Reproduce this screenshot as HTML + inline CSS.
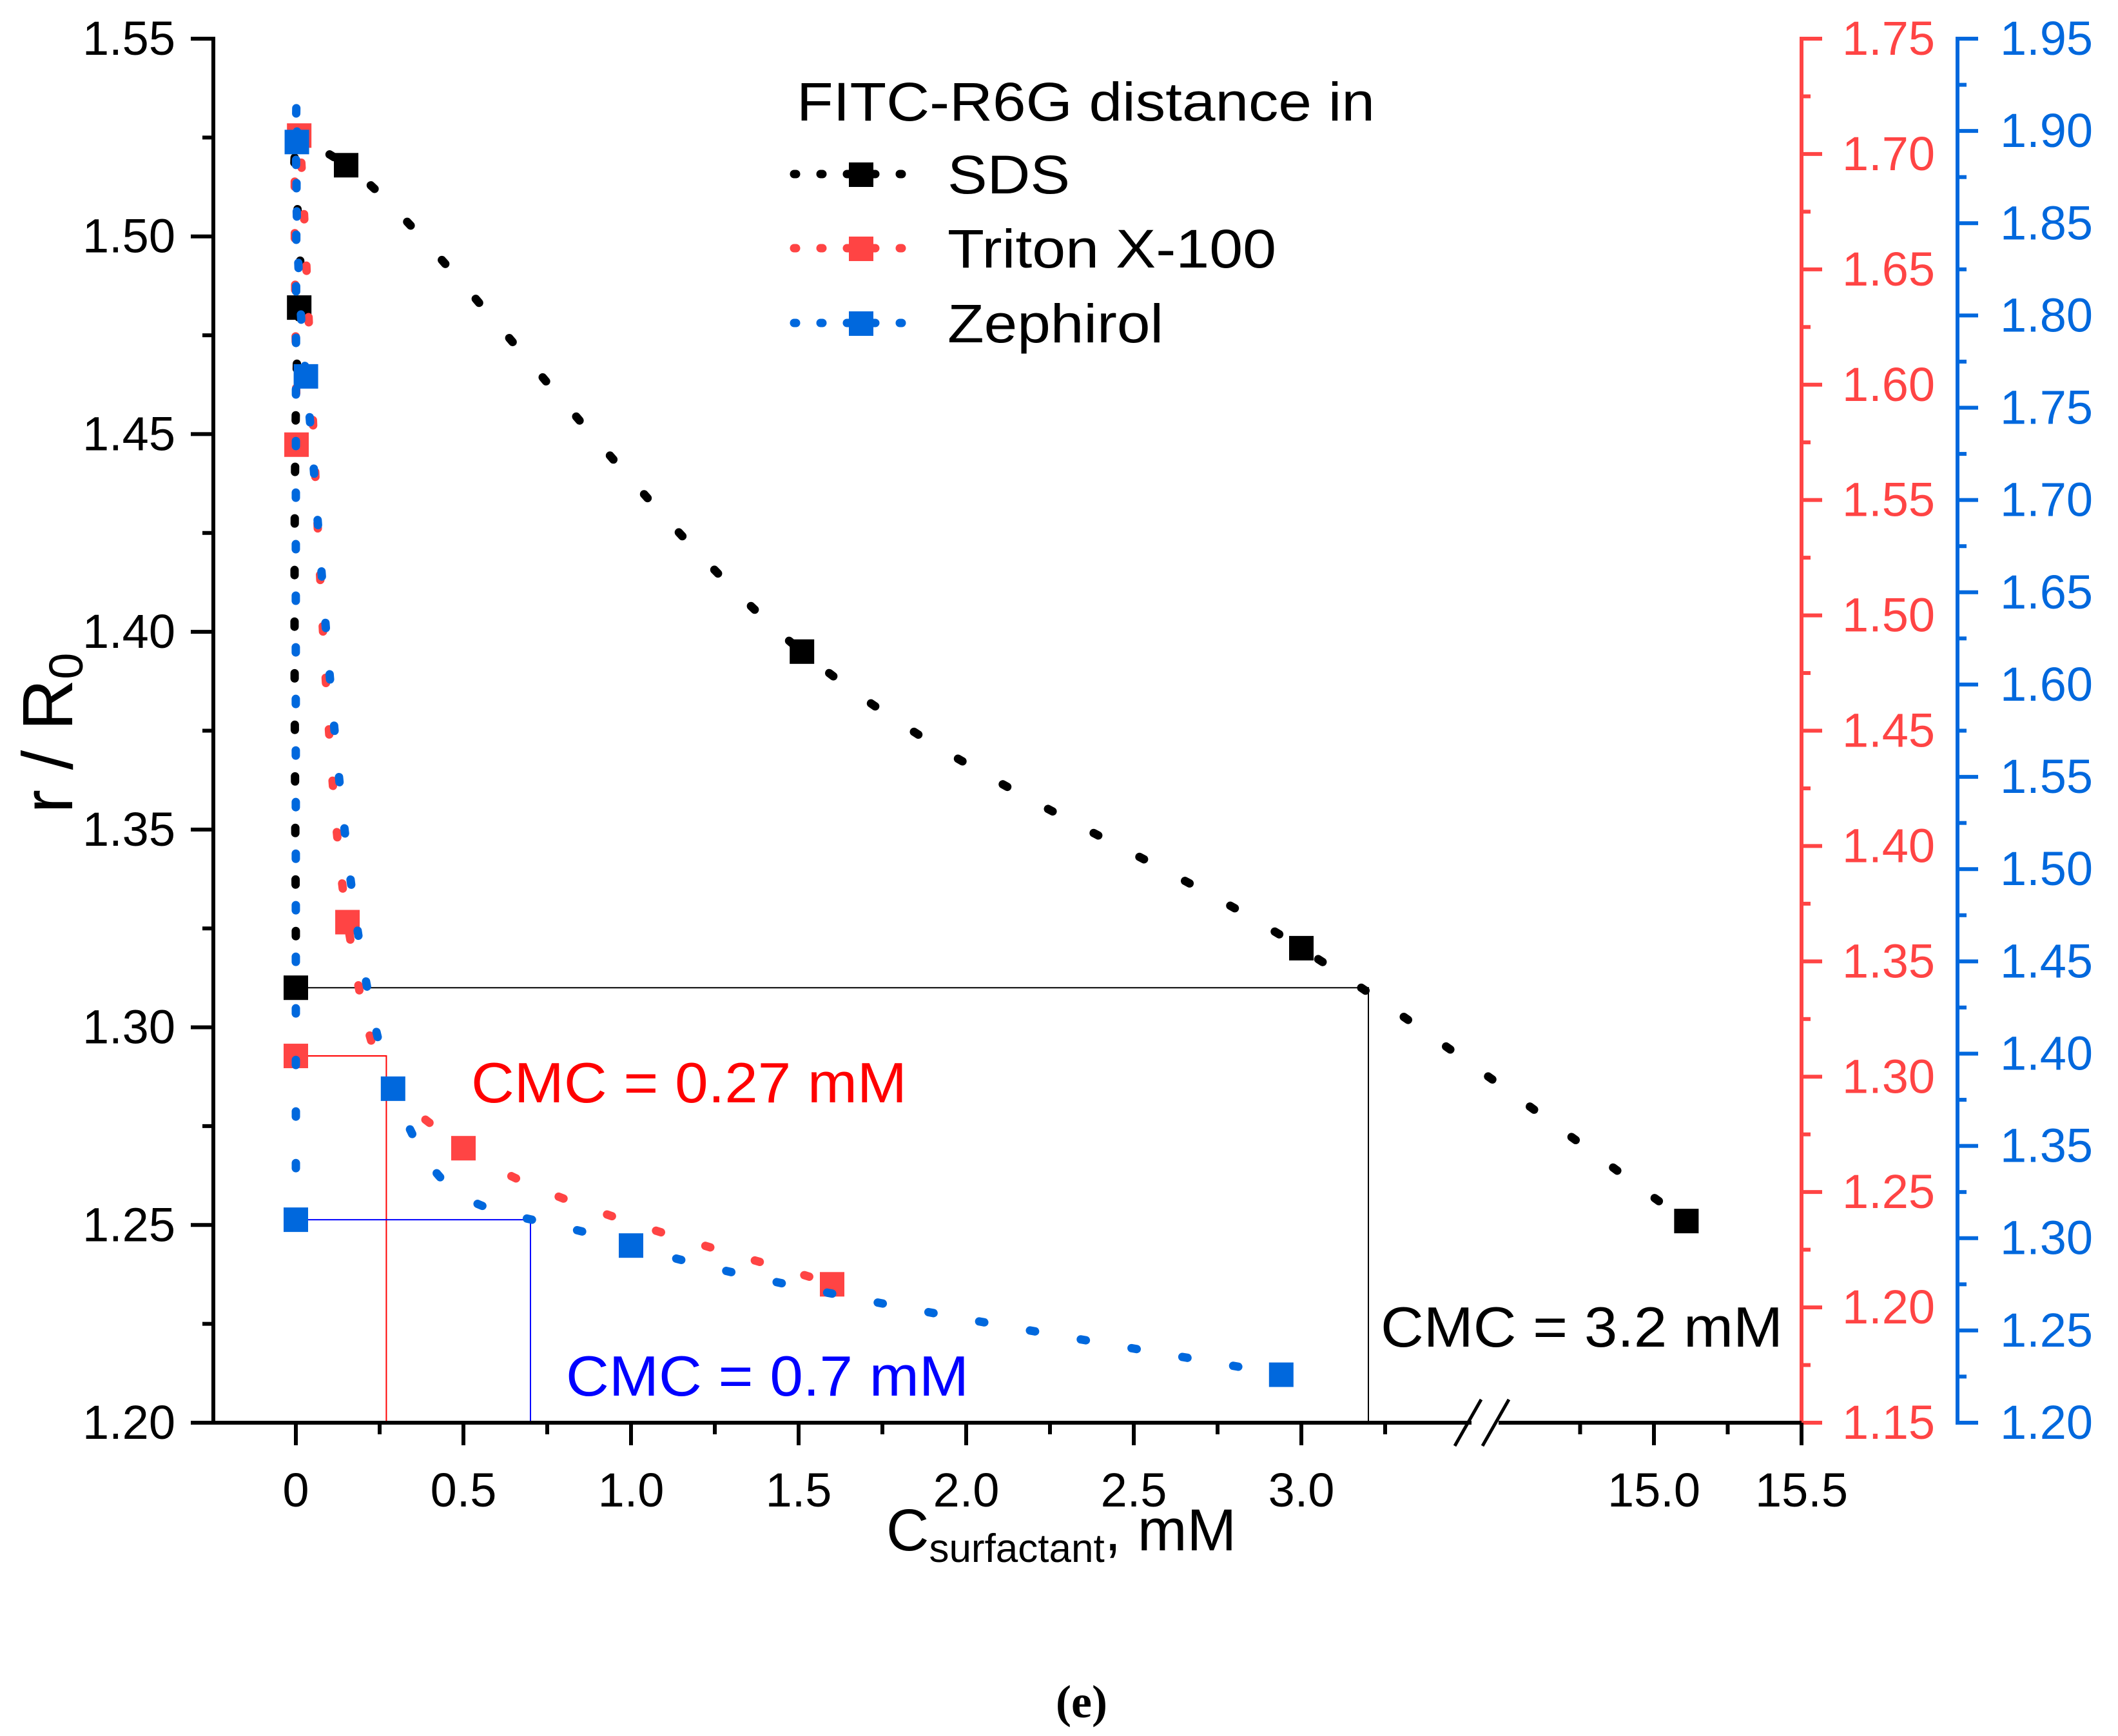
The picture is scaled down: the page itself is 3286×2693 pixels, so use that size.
<!DOCTYPE html>
<html><head><meta charset="utf-8"><style>
html,body{margin:0;padding:0;background:#fff}
svg{display:block}
</style></head><body>
<svg id="chart" width="3286" height="2693" viewBox="0 0 3286 2693" xmlns="http://www.w3.org/2000/svg" font-family="Liberation Sans, sans-serif"></svg>
<script>
const sdsX=[0,0.01,0.15,1.51,3.0,15.11];
const sdsY=[1.31,1.482,1.518,1.395,1.32,1.251];
const tritonX=[0,0.002,0.01,0.154,0.5,1.6];
const tritonY=[1.309,1.574,1.708,1.367,1.269,1.210];
const zephX=[0,0.003,0.03,0.29,1.0,2.94];
const zephY=[1.310,1.894,1.767,1.381,1.296,1.226];
const leftTicks=["1.20","1.25","1.30","1.35","1.40","1.45","1.50","1.55"];
const redTicks=["1.15","1.20","1.25","1.30","1.35","1.40","1.45","1.50","1.55","1.60","1.65","1.70","1.75"];
const blueTicks=["1.20","1.25","1.30","1.35","1.40","1.45","1.50","1.55","1.60","1.65","1.70","1.75","1.80","1.85","1.90","1.95"];
const xTicks=["0","0.5","1.0","1.5","2.0","2.5","3.0","15.0","15.5"];
const cmcSds=3.2, cmcTriton=0.27, cmcZeph=0.7;

const NS="http://www.w3.org/2000/svg";
const svg=document.getElementById('chart');
const RED="#ff4444", BLUE="#0068dd";
const L=331,R=2795,B=2207,T=60,BL=3037;
function X(v){return v<=5?459+v*520:2566+(v-15)*458;}
function YL(v){return B-(v-1.20)/0.35*(B-T);}
function YR(v){return B-(v-1.15)/0.60*(B-T);}
function YB(v){return B-(v-1.20)/0.75*(B-T);}
function el(tag,at,parent){const e=document.createElementNS(NS,tag);for(const k in at)e.setAttribute(k,at[k]);(parent||svg).appendChild(e);return e;}
function txt(s,x,y,size,fill,anchor){const t=el('text',{x:x,y:y,'font-size':size,fill:fill,'text-anchor':anchor||'start'});t.textContent=s;return t;}

let g;
g=el('polyline',{points:`${X(0)},${YL(1.31)} ${X(cmcSds)},${YL(1.31)} ${X(cmcSds)},${B}`,fill:'none',stroke:'#000','stroke-width':2});


g=el('polyline',{points:`${X(0)},${YR(1.309)} ${X(cmcTriton)},${YR(1.309)} ${X(cmcTriton)},${B}`,fill:'none',stroke:'#ff0000','stroke-width':2});


g=el('polyline',{points:`${X(0)},${YB(1.310)} ${X(cmcZeph)},${YB(1.310)} ${X(cmcZeph)},${B}`,fill:'none',stroke:'#0000ff','stroke-width':2});



function curve(pts){let d=`M${pts[0][0]},${pts[0][1]}`;for(let i=0;i<pts.length-1;i++){const p0=pts[i-1]||pts[i],p1=pts[i],p2=pts[i+1],p3=pts[i+2]||p2;const c1=[p1[0]+(p2[0]-p0[0])/6,p1[1]+(p2[1]-p0[1])/6],c2=[p2[0]-(p3[0]-p1[0])/6,p2[1]-(p3[1]-p1[1])/6];d+=` C${c1[0]},${c1[1]} ${c2[0]},${c2[1]} ${p2[0]},${p2[1]}`;}return d;}
function series(xs,ys,yf,color,name,skipFirst){
  const pts=xs.map((x,i)=>[X(x),yf(ys[i])]);
  const lp=skipFirst?pts.slice(1):pts;
  const p=el('path',{d:curve(lp),fill:'none',stroke:color,'stroke-width':13,'stroke-linecap':'round','stroke-dasharray':'8 72'});
  
  
  pts.forEach((q,i)=>{const r=el('rect',{x:q[0]-19,y:q[1]-19,width:38,height:38,fill:color});
    
    });
}
series(sdsX,sdsY,YL,'#000','sds',false);
series(tritonX,tritonY,YR,RED,'triton',true);
series(zephX,zephY,YB,BLUE,'zephirol',false);

el('line',{x1:L,y1:T-3,x2:L,y2:B+3,stroke:'#000','stroke-width':6});
leftTicks.forEach((s,i)=>{const v=1.20+i*0.05,y=YL(v);el('line',{x1:L-35,y1:y,x2:L,y2:y,stroke:'#000','stroke-width':6});
  if(i<leftTicks.length-1)el('line',{x1:L-17,y1:YL(v+0.025),x2:L,y2:YL(v+0.025),stroke:'#000','stroke-width':6});
  const t=txt(s,272,y+25,74,'#000','end');});
el('line',{x1:R,y1:T-3,x2:R,y2:B+3,stroke:RED,'stroke-width':6});
redTicks.forEach((s,i)=>{const v=1.15+i*0.05,y=YR(v);el('line',{x1:R,y1:y,x2:R+32,y2:y,stroke:RED,'stroke-width':6});
  if(i<redTicks.length-1)el('line',{x1:R,y1:YR(v+0.025),x2:R+14,y2:YR(v+0.025),stroke:RED,'stroke-width':6});
  const t=txt(s,2858,y+25,74,RED);});
el('line',{x1:BL,y1:T-3,x2:BL,y2:B+3,stroke:BLUE,'stroke-width':6});
blueTicks.forEach((s,i)=>{const v=1.20+i*0.05,y=YB(v);el('line',{x1:BL,y1:y,x2:BL+32,y2:y,stroke:BLUE,'stroke-width':6});
  if(i<blueTicks.length-1)el('line',{x1:BL,y1:YB(v+0.025),x2:BL+14,y2:YB(v+0.025),stroke:BLUE,'stroke-width':6});
  const t=txt(s,3103,y+25,74,BLUE);});
el('line',{x1:L-3,y1:B,x2:R,y2:B,stroke:'#000','stroke-width':6});
xTicks.forEach(s=>{const x=X(parseFloat(s));el('line',{x1:x,y1:B,x2:x,y2:B+35,stroke:'#000','stroke-width':6});
  const t=txt(s,x,B+130,74,'#000','middle');});
[0.25,0.75,1.25,1.75,2.25,2.75,3.25,14.75,15.25].forEach(v=>el('line',{x1:X(v),y1:B,x2:X(v),y2:B+18,stroke:'#000','stroke-width':6}));
el('rect',{x:2283,y:B-8,width:42,height:16,fill:'#fff'});
el('line',{x1:2257,y1:B+36,x2:2298,y2:B-36,stroke:'#000','stroke-width':5});
el('line',{x1:2300,y1:B+36,x2:2341,y2:B-36,stroke:'#000','stroke-width':5});
</script>
<svg style="position:absolute;left:0;top:0" width="3286" height="2693" font-family="Liberation Sans, sans-serif">
<text x="1236" y="187" font-size="84" textLength="897" lengthAdjust="spacingAndGlyphs">FITC-R6G distance in</text>
<g><line x1="1232" y1="270" x2="1407" y2="270" stroke="#000" stroke-width="13" stroke-linecap="round" stroke-dasharray="3 38"/><rect x="1317" y="252" width="38" height="38" fill="#000"/><text x="1470" y="300" font-size="84" textLength="190" lengthAdjust="spacingAndGlyphs">SDS</text></g>
<g><line x1="1232" y1="385" x2="1407" y2="385" stroke="#ff4444" stroke-width="13" stroke-linecap="round" stroke-dasharray="3 38"/><rect x="1317" y="367" width="38" height="38" fill="#ff4444"/><text x="1470" y="415" font-size="84" textLength="510" lengthAdjust="spacingAndGlyphs">Triton X-100</text></g>
<g><line x1="1232" y1="501" x2="1407" y2="501" stroke="#0068dd" stroke-width="13" stroke-linecap="round" stroke-dasharray="3 38"/><rect x="1317" y="483" width="38" height="38" fill="#0068dd"/><text x="1470" y="531" font-size="84" textLength="335" lengthAdjust="spacingAndGlyphs">Zephirol</text></g>
<text x="731" y="1710" font-size="88" fill="#ff0000" textLength="676" lengthAdjust="spacingAndGlyphs">CMC = 0.27 mM</text>
<text x="878" y="2165" font-size="88" fill="#0000ff" textLength="625" lengthAdjust="spacingAndGlyphs">CMC = 0.7 mM</text>
<text x="2142" y="2089" font-size="88" textLength="624" lengthAdjust="spacingAndGlyphs">CMC = 3.2 mM</text>
<text x="1375" y="2405" font-size="92">C<tspan font-size="62" dy="18">surfactant</tspan><tspan dy="-18">, mM</tspan></text>
<text transform="translate(112,1137) rotate(-90)" text-anchor="middle" font-size="110">r / R<tspan font-size="74" dy="16">0</tspan></text>
<text x="1678" y="2664" font-size="72" font-weight="bold" text-anchor="middle" style="font-family:'Liberation Serif',serif">(e)</text>
</svg>
</body></html>
